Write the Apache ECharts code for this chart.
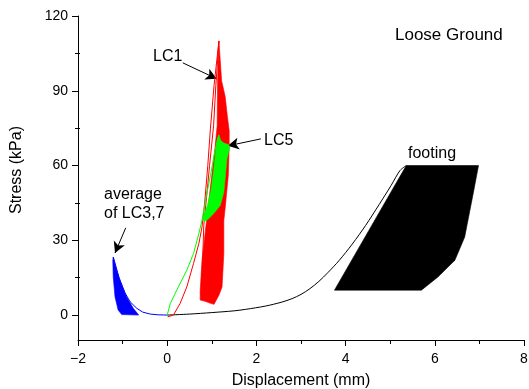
<!DOCTYPE html>
<html><head><meta charset="utf-8">
<script src="https://cdn.jsdelivr.net/npm/echarts@6/dist/echarts.min.js"></script>
<style>html,body{margin:0;padding:0;background:#fff}#c{width:529px;height:389px}</style>
</head><body><div id="c"></div>
<script>
// ---- data (displacement mm, stress kPa) ----
const xTickLabels = [-2, 0, 2, 4, 6, 8];
const yTickValues = [0, 30, 60, 90, 120];
const yMinorTickValues = [15, 45, 75, 105];

// footing: first loading curve and cyclic band envelope
const footingInitial = [[0,0],[0.5,0.4],[1.0,1.0],[1.5,1.7],[1.76,2.3],[2.2,3.6],[2.57,5.2],[2.8,6.6],[3.0,8.3],[3.2,10.6],[3.4,13.5],[3.6,17],[3.85,21.8],[4.15,28.5],[4.45,36],[4.75,44.3],[5.02,52],[5.22,58],[5.36,60]];
const footingBand = [[3.75,10],[5.36,60],[6.98,60],[6.86,48.7],[6.67,31.3],[6.45,22],[6.07,15.3],[5.70,10]];

// average of LC3,7
const blueLine = [[0,0],[-0.2,0.1],[-0.38,0.4],[-0.55,1.2],[-0.68,2.7],[-0.83,5.3],[-0.95,9],[-1.08,15],[-1.21,23.3]];
const blueBand = [[-1.21,23.3],[-1.13,18],[-1.06,14],[-0.91,7.3],[-0.76,2.7],[-0.64,0],[-1.02,0.2],[-1.10,2],[-1.17,7.3],[-1.21,15.3],[-1.22,22]];

// LC1
const redLoading = [[0.01,-0.7],[0.14,0],[0.29,4.7],[0.44,11.3],[0.59,20.7],[0.71,28.7],[0.78,35.3],[0.84,45],[0.91,60],[0.97,75],[1.05,92],[1.16,110]];
const redUnloading = [[1.16,110],[1.09,92],[1.04,76],[0.95,60],[0.87,45],[0.82,36],[0.80,25],[0.78,15],[0.76,8]];
const redBand = [[1.16,110],[1.19,102],[1.22,94],[1.30,87.7],[1.35,79.6],[1.39,74],[1.39,68],[1.37,56],[1.30,43],[1.27,38],[1.27,24.7],[1.23,11.3],[1.16,8],[1.05,4.3],[0.97,4.7],[0.85,5.5],[0.74,6],[0.74,10],[0.78,22],[0.87,36],[0.96,50],[1.06,65],[1.12,76],[1.13,94],[1.15,108]];

// LC5
const greenLoading = [[0,0],[0.07,4.7],[0.25,11.3],[0.44,18],[0.59,24.7],[0.71,32.7],[0.78,38],[0.88,48],[0.97,56],[1.05,64],[1.12,70],[1.16,72.3]];
const greenBand = [[1.16,72.3],[1.20,70],[1.27,69],[1.38,68.3],[1.40,67],[1.34,62.7],[1.30,55],[1.27,49.3],[1.19,44],[1.04,40.7],[0.92,38.5],[0.83,37.5],[0.80,39],[0.90,44],[0.98,50],[1.04,58],[1.09,66],[1.13,71]];

// annotation arrows: [tail, tip]
const arrowLC1 = [[0.35,101.2],[1.11,94.8]];
const arrowLC5 = [[2.10,70.7],[1.36,67.9]];
const arrowAvg = [[-0.93,35],[-1.17,24.9]];

const FONT = 'Liberation Sans, Arial, sans-serif';

function polygonSeries(name, pts, color, z) {
  return {
    type: 'custom', name: name, data: pts, z: z, silent: true, animation: false,
    renderItem: function (params, api) {
      if (params.dataIndex !== 0) return null;
      return {
        type: 'polygon',
        shape: { points: pts.map(function (p) { return api.coord(p); }) },
        style: { fill: color, stroke: color, lineWidth: 0.6 }
      };
    }
  };
}
function lineSeries(name, pts, color, z) {
  return {
    type: 'line', name: name, data: pts, z: z, showSymbol: false, silent: true,
    animation: false, lineStyle: { color: color, width: 1 }, itemStyle: { color: color }
  };
}
function arrow(a) {
  return [{ coord: a[0], symbol: 'none' }, { coord: a[1], symbol: 'arrow' }];
}

const chart = echarts.init(document.getElementById('c'));
chart.setOption({
  animation: false,
  backgroundColor: '#fff',
  grid: { left: 78, right: 5, top: 16, bottom: 49, containLabel: false, outerBoundsMode: 'none' },
  xAxis: {
    type: 'value', min: -2, max: 8, interval: 2,
    name: 'Displacement (mm)', nameLocation: 'middle', nameGap: 33,
    nameTextStyle: { fontFamily: FONT, fontSize: 16, color: '#000' },
    axisLine: { show: true, onZero: false, lineStyle: { color: '#000', width: 1 } },
    axisTick: { show: true, length: 6, lineStyle: { color: '#000' } },
    minorTick: { show: true, splitNumber: 2, length: 4, lineStyle: { color: '#000' } },
    axisLabel: { margin: 12, fontFamily: FONT, fontSize: 14, color: '#000',
      formatter: function (v) { return xTickLabels.indexOf(v) >= 0 ? String(v).replace('-', '\u2212') : ''; } },
    splitLine: { show: false }
  },
  yAxis: [{
    type: 'value', min: -10, max: 120,
    axisLine: { show: true, onZero: false, lineStyle: { color: '#000', width: 1 } },
    axisTick: { show: true, length: 6, customValues: yTickValues, lineStyle: { color: '#000' } },
    axisLabel: { margin: 10, fontFamily: FONT, fontSize: 14, color: '#000', customValues: yTickValues },
    splitLine: { show: false }
  }, {
    type: 'value', min: -10, max: 120, position: 'left', offset: -2,
    axisLine: { show: false, onZero: false },
    axisTick: { show: true, length: 5, customValues: yMinorTickValues, lineStyle: { color: '#000' } },
    axisLabel: { show: false },
    splitLine: { show: false }
  }],
  graphic: [
    { type: 'text', x: 17, y: 170, rotation: Math.PI / 2,
      style: { text: 'Stress (kPa)', font: '16px ' + FONT, fill: '#000', align: 'center', verticalAlign: 'middle' } },
    { type: 'text', x: 395, y: 35, style: { text: 'Loose Ground', font: '17px ' + FONT, fill: '#000', align: 'left', verticalAlign: 'middle' } },
    { type: 'text', x: 153, y: 57, style: { text: 'LC1', font: '16px ' + FONT, fill: '#000', align: 'left', verticalAlign: 'middle' } },
    { type: 'text', x: 264, y: 141, style: { text: 'LC5', font: '16px ' + FONT, fill: '#000', align: 'left', verticalAlign: 'middle' } },
    { type: 'text', x: 408, y: 154, style: { text: 'footing', font: '16px ' + FONT, fill: '#000', align: 'left', verticalAlign: 'middle' } },
    { type: 'text', x: 104, y: 195, style: { text: 'average', font: '16px ' + FONT, fill: '#000', align: 'left', verticalAlign: 'middle' } },
    { type: 'text', x: 104, y: 214, style: { text: 'of LC3,7', font: '16px ' + FONT, fill: '#000', align: 'left', verticalAlign: 'middle' } }
  ],
  series: [
    polygonSeries('footing band', footingBand, '#000', 2),
    Object.assign(lineSeries('footing', footingInitial, '#000', 3), { smooth: 0.3 }),
    polygonSeries('LC3,7 band', blueBand, '#0000ff', 4),
    lineSeries('LC3,7', blueLine, '#0000ff', 5),
    polygonSeries('LC1 band', redBand, '#ff0000', 6),
    lineSeries('LC1 loading', redLoading, '#ff0000', 7),
    lineSeries('LC1 unloading', redUnloading, '#ff0000', 7),
    polygonSeries('LC5 band', greenBand, '#00ff00', 8),
    Object.assign(lineSeries('LC5', greenLoading, '#00ff00', 9), {
      markLine: {
        silent: true, animation: false, symbolSize: [9, 11],
        label: { show: false },
        lineStyle: { color: '#000', width: 1, type: 'solid' },
        emphasis: { disabled: true },
        data: [arrow(arrowLC1), arrow(arrowLC5), arrow(arrowAvg)]
      }
    })
  ]
});
</script>
</body></html>
